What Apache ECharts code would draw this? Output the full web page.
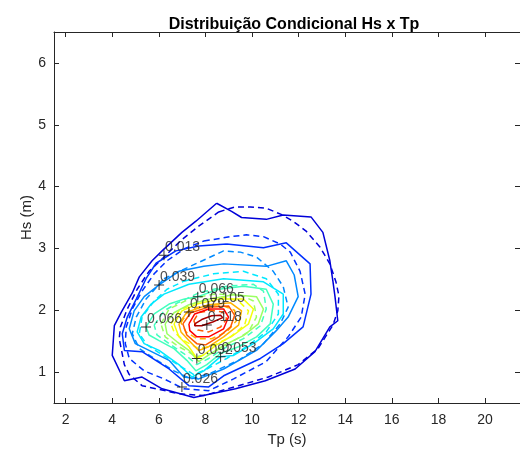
<!DOCTYPE html>
<html><head><meta charset="utf-8">
<script src="https://cdn.jsdelivr.net/npm/echarts@6/dist/echarts.min.js"></script>
<style>html,body{margin:0;padding:0;background:#fff}#c{width:520px;height:452px}</style>
</head><body><div id="c"></div>
<script>
// ---- data (Tp in s, Hs in m) ----
const levels = [0.013,0.026,0.039,0.053,0.066,0.079,0.092,0.105,0.118,0.131,0.144];
const xTicks = [2,4,6,8,10,12,14,16,18,20];
const yTicks = [1,2,3,4,5,6];

// empirical contours (solid)
const emp013 = [[8.48,3.73],[9.12,3.60],[9.55,3.50],[10.61,3.47],[11.34,3.54],[12.53,3.51],[13.04,3.26],[13.34,2.80],[13.47,2.47],[13.56,2.22],[13.68,1.83],[13.34,1.73],[12.70,1.33],[11.85,1.05],[10.57,0.86],[9.29,0.73],[7.50,0.59],[6.14,0.73],[5.28,0.92],[4.52,0.86],[4.00,1.27],[4.09,1.75],[4.39,1.97],[4.86,2.28],[5.16,2.54],[5.71,2.80],[6.14,2.96],[6.99,3.26],[7.59,3.44]];
const emp026 = [[8.91,3.07],[10.49,3.01],[11.47,3.09],[12.49,2.75],[12.53,2.26],[12.19,1.73],[11.34,1.46],[10.36,1.22],[8.78,0.94],[8.14,0.76],[7.29,0.78],[6.44,1.05],[5.28,1.33],[4.52,1.35],[4.43,1.62],[4.645,1.89],[5.03,2.18],[5.45,2.51],[5.88,2.76],[6.73,2.96],[7.71,3.04]];
const emp039 = [[6.01,2.41],[6.86,2.63],[7.93,2.71],[8.78,2.75],[10.61,2.71],[11.47,2.80],[11.81,2.57],[11.98,2.22],[11.55,1.89],[11.04,1.67],[10.19,1.35],[8.78,1.05],[7.71,0.89],[7.07,0.92],[6.44,1.19],[5.58,1.35],[4.99,1.46],[4.73,1.70],[4.94,1.99],[5.37,2.22]];
const emp053 = [[7.29,2.42],[8.78,2.51],[10.49,2.46],[11.34,2.26],[11.34,1.94],[10.91,1.70],[10.06,1.46],[9.21,1.27],[8.65,1.25],[7.93,1.02],[7.42,0.92],[6.86,1.12],[6.01,1.35],[5.37,1.46],[5.07,1.65],[5.24,1.89],[5.67,2.10],[6.22,2.26]];
const emp066 = [[5.45,1.73],[5.80,1.94],[6.44,2.10],[7.07,2.18],[7.67,2.22],[8.57,2.34],[9.63,2.39],[10.61,2.34],[10.91,2.10],[10.78,1.78],[10.19,1.57],[9.42,1.41],[8.65,1.30],[8.06,1.12],[7.59,1.02],[7.20,1.19],[6.65,1.38],[6.01,1.51],[5.58,1.60]];
const emp079 = [[6.27,1.78],[6.65,1.96],[7.29,2.09],[8.14,2.18],[9.21,2.25],[10.19,2.22],[10.49,2.02],[10.27,1.78],[9.63,1.59],[8.78,1.43],[8.23,1.30],[7.71,1.17],[7.29,1.35],[6.78,1.49],[6.35,1.62]];
const emp092 = [[6.65,1.78],[6.99,1.99],[7.63,2.10],[8.57,2.18],[9.63,2.18],[10.06,2.02],[9.85,1.78],[9.21,1.60],[8.48,1.44],[7.93,1.28],[7.63,1.22],[7.29,1.41],[6.86,1.57]];
const emp105 = [[6.86,1.78],[7.20,1.97],[8.14,2.09],[9.08,2.12],[9.55,1.99],[9.42,1.76],[8.78,1.57],[8.14,1.41],[7.71,1.35],[7.29,1.51],[6.95,1.65]];
const emp118 = [[7.03,1.78],[7.37,1.96],[8.14,2.05],[8.99,2.07],[9.25,1.92],[9.08,1.73],[8.57,1.57],[8.01,1.44],[7.63,1.46],[7.20,1.60]];
const emp131 = [[7.29,1.78],[7.54,1.94],[8.14,2.02],[8.78,2.02],[8.99,1.89],[8.78,1.70],[8.14,1.57],[7.63,1.57],[7.33,1.67]];
const emp144 = [[7.54,1.78],[7.84,1.85],[8.27,1.91],[8.65,1.92],[8.74,1.88],[8.31,1.81],[7.84,1.75],[7.54,1.75]];

// model contours (dashed)
const mod013 = [[8.57,3.59],[9.25,3.67],[9.93,3.67],[10.61,3.65],[11.25,3.55],[11.76,3.44],[12.32,3.28],[12.92,3.02],[13.34,2.75],[13.60,2.46],[13.73,2.23],[13.68,1.99],[13.47,1.76],[12.83,1.38],[11.98,1.12],[10.70,0.92],[9.42,0.78],[7.93,0.62],[6.86,0.65],[6.01,0.72],[5.28,0.78],[4.73,0.96],[4.52,1.12],[4.30,1.54],[4.35,1.73],[4.645,2.02],[5.07,2.34],[5.58,2.63],[6.22,2.86],[6.95,3.13],[7.71,3.36]];
const mod026 = [[7.93,3.12],[9.08,3.19],[9.76,3.22],[10.49,3.19],[11.21,3.07],[11.64,2.94],[12.06,2.63],[12.28,2.26],[12.11,1.89],[11.55,1.57],[10.61,1.17],[9.21,0.89],[8.14,0.70],[7.07,0.73],[6.22,0.89],[5.37,1.02],[4.73,1.22],[4.56,1.46],[4.60,1.73],[4.86,2.02],[5.28,2.31],[5.80,2.59],[6.35,2.80],[7.07,2.99]];
const mod039 = [[6.22,2.51],[7.29,2.70],[8.78,2.96],[9.50,2.94],[10.19,2.86],[10.91,2.63],[11.34,2.38],[11.55,2.05],[11.21,1.78],[10.49,1.46],[9.42,1.19],[8.14,0.97],[7.37,0.89],[6.65,1.02],[5.80,1.22],[5.16,1.38],[4.86,1.62],[5.03,1.89],[5.45,2.18]];
const mod053 = [[7.07,2.47],[8.35,2.59],[9.63,2.63],[10.61,2.51],[11.13,2.26],[11.13,1.94],[10.61,1.65],[9.76,1.41],[8.91,1.22],[8.06,1.05],[7.50,0.96],[6.95,1.09],[6.14,1.28],[5.50,1.44],[5.16,1.62],[5.28,1.89],[5.80,2.15],[6.35,2.34]];
const mod066 = [[5.80,1.76],[6.22,1.99],[6.86,2.13],[7.71,2.28],[8.91,2.39],[10.06,2.42],[10.49,2.31],[10.61,2.02],[10.36,1.75],[9.63,1.54],[8.78,1.38],[8.14,1.22],[7.63,1.12],[7.07,1.30],[6.44,1.46],[5.92,1.60]];
const mod079 = [[6.09,1.78],[6.44,2.02],[7.29,2.18],[8.35,2.26],[9.42,2.26],[10.06,2.15],[10.19,1.89],[9.85,1.65],[8.99,1.46],[8.23,1.30],[7.63,1.25],[6.86,1.41],[6.27,1.57]];
const mod092 = [[6.52,1.78],[6.86,1.99],[7.63,2.13],[8.65,2.22],[9.42,2.15],[9.85,1.99],[9.68,1.76],[9.08,1.57],[8.35,1.43],[7.71,1.38],[7.07,1.51],[6.65,1.65]];
const mod105 = [[6.95,1.80],[7.29,2.00],[7.84,2.07],[8.65,2.09],[9.25,2.00],[9.33,1.83],[8.91,1.65],[8.27,1.54],[7.63,1.54],[7.16,1.65]];
const mod118 = [[7.50,1.83],[7.71,1.96],[8.23,2.00],[8.74,1.97],[8.91,1.86],[8.65,1.73],[8.14,1.65],[7.67,1.68]];

// contour labels: [Tp, Hs, level text]
const labelPts = [[6.22,2.89,'0.013'],[6.01,2.41,'0.039'],[7.67,2.22,'0.066'],[7.29,1.97,'0.079'],[8.14,2.07,'0.105'],[5.45,1.73,'0.066'],[8.06,1.76,'0.118'],[7.63,1.22,'0.092'],[8.65,1.25,'0.053'],[6.99,0.76,'0.026']];

// ---- styles ----
const jet = ['#0000d9','#0030ff','#008aff','#00e8ff','#42ffbd','#9cff63','#f2ff0d','#ffb300','#ff5900','#ff0200','#a80000'];
const empSets = [emp013,emp026,emp039,emp053,emp066,emp079,emp092,emp105,emp118,emp131,emp144];
const modSets = [mod013,mod026,mod039,mod053,mod066,mod079,mod092,mod105,mod118];
const FONT = '"Liberation Sans", Arial, Helvetica, sans-serif';
const AX = '#262626';

function closed(a){ return a.concat([a[0]]); }
const series = [];
modSets.forEach((d,i)=>series.push({type:'line',name:'m'+levels[i],data:closed(d),xAxisIndex:0,yAxisIndex:0,
  showSymbol:false,silent:true,lineStyle:{color:jet[i],width:1.5,type:[6,4]},z:2}));
empSets.forEach((d,i)=>series.push({type:'line',name:'e'+levels[i],data:closed(d),xAxisIndex:0,yAxisIndex:0,
  showSymbol:false,silent:true,lineStyle:{color:jet[i],width:1.5},z:3}));
series.push({type:'scatter',data:labelPts.map(p=>({value:[p[0],p[1]],name:p[2]})),
  symbol:'path://M4.5,0H5.5V4.5H10V5.5H5.5V10H4.5V5.5H0V4.5H4.5Z',symbolSize:10,
  itemStyle:{color:'#000'},z:5,
  label:{show:true,formatter:p=>p.name,position:[6,-3],align:'left',verticalAlign:'middle',
    fontFamily:FONT,fontSize:14,color:'#222'}});

const axBase = {type:'value',splitLine:{show:false},
  axisLine:{show:true,onZero:false,lineStyle:{color:AX,width:1}},
  axisTick:{show:true,inside:true,length:5,lineStyle:{color:AX}}};

const option = {
  animation:false,
  title:{text:'Distribuição Condicional Hs x Tp',left:289,top:12,textAlign:'center',
    textStyle:{fontFamily:FONT,fontSize:16,fontWeight:'bold',color:'#000'}},
  grid:{left:54,top:32,width:469,height:372,containLabel:false},
  xAxis:[
    Object.assign({},axBase,{position:'bottom',min:1.5,max:21.5,name:'Tp (s)',nameLocation:'middle',nameGap:29,nameMoveOverlap:false,
      nameTextStyle:{fontFamily:FONT,fontSize:15,color:AX},
      axisTick:{show:true,inside:true,length:5,lineStyle:{color:AX},customValues:xTicks},
      axisLabel:{customValues:xTicks,margin:10,fontFamily:FONT,fontSize:14,color:AX}}),
    Object.assign({},axBase,{position:'top',min:1.5,max:21.5,
      axisTick:{show:true,inside:true,length:5,lineStyle:{color:AX},customValues:xTicks},
      axisLabel:{show:false}})
  ],
  yAxis:[
    Object.assign({},axBase,{position:'left',min:0.5,max:6.5,name:'Hs (m)',nameLocation:'middle',nameGap:20,nameRotate:90,nameMoveOverlap:false,
      nameTextStyle:{fontFamily:FONT,fontSize:15,color:AX},
      axisTick:{show:true,inside:true,length:5,lineStyle:{color:AX},customValues:yTicks},
      axisLabel:{customValues:yTicks,margin:8,fontFamily:FONT,fontSize:14,color:AX}}),
    Object.assign({},axBase,{position:'right',min:0.5,max:6.5,
      axisTick:{show:true,inside:true,length:5,lineStyle:{color:AX},customValues:yTicks},
      axisLabel:{show:false}})
  ],
  series:series
};
echarts.init(document.getElementById('c'),null,{renderer:'canvas'}).setOption(option);
</script></body></html>
